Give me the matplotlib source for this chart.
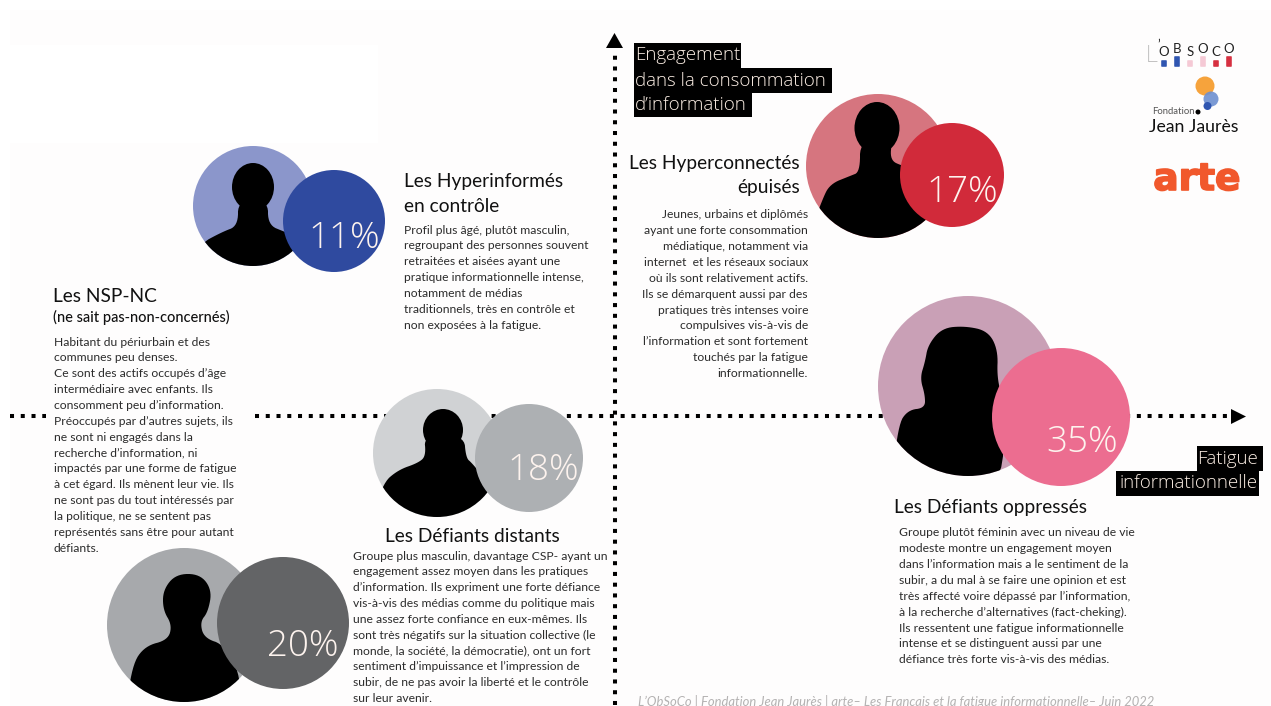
#Typology of French readers: share of each group on engagement / fatigue axes
from matplotlib import pyplot as plt
from matplotlib.patches import Circle, Polygon, Rectangle, Ellipse, FancyBboxPatch
from matplotlib import patheffects

plt.rcParams['font.family'] = ['Lato', 'DejaVu Sans']

#Share of each group
shares = ['11%', '17%', '35%', '18%', '20%']

#Texts of the groups
hyperinformes_title = ['Les Hyperinformés', 'en contrôle']
hyperinformes_text = ['Profil plus âgé, plutôt masculin,', 'regroupant des personnes souvent',
                      'retraitées et aisées ayant une', 'pratique informationnelle intense,',
                      'notamment de médias', 'traditionnels, très en contrôle et',
                      'non exposées à la fatigue.']
hyperconnectes_title = ['Les Hyperconnectés', 'épuisés']
hyperconnectes_text = ['Jeunes, urbains et diplômés', 'ayant une forte consommation',
                       'médiatique, notamment via', 'internet  et les réseaux sociaux',
                       'où ils sont relativement actifs.', 'Ils se démarquent aussi par des',
                       'pratiques très intenses voire', 'compulsives vis-à-vis de',
                       'l’information et sont fortement', 'touchés par la fatigue',
                       'informationnelle.']
nsp_title = 'Les NSP-NC'
nsp_subtitle = '(ne sait pas-non-concernés)'
nsp_text = ['Habitant du périurbain et des', 'communes peu denses.',
            'Ce sont des actifs occupés d’âge', 'intermédiaire avec enfants. Ils',
            'consomment peu d’information.', 'Préoccupés par d’autres sujets, ils',
            'ne sont ni engagés dans la', 'recherche d’information, ni',
            'impactés par une forme de fatigue', 'à cet égard. Ils mènent leur vie. Ils',
            'ne sont pas du tout intéressés par', 'la politique, ne se sentent pas',
            'représentés sans être pour autant', 'défiants.']
distants_title = 'Les Défiants distants'
distants_text = ['Groupe plus masculin, davantage CSP- ayant un',
                 'engagement assez moyen dans les pratiques',
                 'd’information. Ils expriment une forte défiance',
                 'vis-à-vis des médias comme du politique mais',
                 'une assez forte confiance en eux-mêmes. Ils',
                 'sont très négatifs sur la situation collective (le',
                 'monde, la société, la démocratie), ont un fort',
                 'sentiment d’impuissance et l’impression de',
                 'subir, de ne pas avoir la liberté et le contrôle',
                 'sur leur avenir.']
oppresses_title = 'Les Défiants oppressés'
oppresses_text = ['Groupe plutôt féminin avec un niveau de vie',
                  'modeste montre un engagement moyen',
                  'dans l’information mais a le sentiment de la',
                  'subir, a du mal à se faire une opinion et est',
                  'très affecté voire dépassé par l’information,',
                  'à la recherche d’alternatives (fact-cheking).',
                  'Ils ressentent une fatigue informationnelle',
                  'intense et se distinguent aussi par une',
                  'défiance très forte vis-à-vis des médias.']
footer = 'L’ObSoCo | Fondation Jean Jaurès | arte– Les Français et la fatigue informationnelle– Juin 2022'

BODY = 8.75
TITLE = 13.8
TEXT_COLOR = '#2b2b2b'

fig = plt.figure(figsize=(12.71, 7.06), dpi=100, facecolor='white')
ax = fig.add_axes([0, 0, 1, 1])
ax.set_xlim(0, 1271)
ax.set_ylim(706, 0)
ax.axis('off')

#Page background, with the white patch at top left
ax.add_patch(Rectangle((10, 10), 1261, 696, fc='#fefdfd', ec='none', zorder=0))
ax.add_patch(Rectangle((10, 45), 368, 98, fc='white', ec='none', zorder=0))

#Dotted axes
dots = (0, (1, 1.67))
ax.plot([10, 46], [416, 416], color='black', lw=2.9, ls=dots, dash_capstyle='butt', zorder=1)
ax.plot([255, 1236], [416, 416], color='black', lw=2.9, ls=dots, dash_capstyle='butt', zorder=1)
ax.plot([614.5, 614.5], [705, 50], color='black', lw=2.9, ls=dots, dash_capstyle='butt', zorder=1)
ax.add_patch(Polygon([(1231, 409), (1246, 416.5), (1231, 424)], fc='black', ec='none', zorder=1))
ax.add_patch(Polygon([(606, 48), (614.5, 33), (623, 48)], fc='black', ec='none', zorder=1))


def smooth(points, rounds=3):
    #Corner cutting, so the silhouettes do not look like plain polygons
    for _ in range(rounds):
        new = []
        for i, (x0, y0) in enumerate(points):
            x1, y1 = points[(i + 1) % len(points)]
            new.append((0.75 * x0 + 0.25 * x1, 0.75 * y0 + 0.25 * y1))
            new.append((0.25 * x0 + 0.75 * x1, 0.25 * y0 + 0.75 * y1))
        points = new
    return points


def bust(big, small, big_color, small_color, outline, head=None, share='', share_xy=(0, 0)):
    #Large circle with the silhouette clipped in it, then the small circle with the share
    back = Circle(big[:2], big[2], fc=big_color, ec='none', zorder=2)
    ax.add_patch(back)
    body = Polygon(smooth(outline), fc='black', ec='none', zorder=3)
    ax.add_patch(body)
    body.set_clip_path(back)
    if head is not None:
        ax.add_patch(Ellipse(head[:2], head[2], head[3], fc='black', ec='none', zorder=3))
    ax.add_patch(Circle(small[:2], small[2], fc=small_color, ec='none', zorder=4))
    ax.text(share_xy[0], share_xy[1], share, color='#fdf3ee', fontsize=26.5, family='Open Sans',
            fontweight='light', ha='center', va='center', zorder=5)


#Hyperinformés
bust((253, 206, 60), (334, 221, 51), '#8b96cb', '#2f4a9f',
     [(238, 200), (268, 200), (268, 225), (285, 232), (305, 240), (330, 290), (180, 290), (198, 245),
      (222, 232), (238, 226)],
     head=(253, 187, 42, 48), share=shares[0], share_xy=(344, 238))
#Hyperconnectés
bust((878, 166, 72), (952, 175, 52), '#d6757f', '#d12a3a',
     [(860, 140), (892, 140), (890, 160), (902, 166), (930, 172), (965, 200), (965, 260), (800, 260),
      (822, 200), (830, 184), (850, 176), (860, 172)],
     head=(877, 128, 45, 52), share=shares[1], share_xy=(962, 193))
#Défiants oppressés
bust((968, 386, 90), (1061, 417, 69), '#c9a0b6', '#ec6d90',
     [(928, 345), (942, 328), (965, 326), (988, 331), (998, 350), (997, 378), (1003, 400), (1003, 500),
      (890, 500), (898, 425), (908, 410), (925, 408), (925, 395), (920, 378), (925, 362)],
     share=shares[2], share_xy=(1082, 442))
#Défiants distants
bust((437, 453, 64), (529, 458, 54), '#d0d2d4', '#adb0b3',
     [(424, 435), (464, 435), (466, 458), (472, 463), (490, 485), (510, 540), (365, 540), (382, 484),
      (398, 470), (418, 463), (426, 456)],
     head=(443, 430, 40, 42), share=shares[3], share_xy=(543, 471))
#NSP
bust((184, 625, 77), (283, 623, 66), '#a7a9ac', '#636466',
     [(163, 590), (176, 574), (200, 574), (212, 590), (208, 612), (200, 622), (204, 638), (225, 645),
      (243, 682), (232, 720), (125, 720), (132, 665), (145, 646), (168, 640), (172, 625), (163, 610)],
     share=shares[4], share_xy=(303, 646))


def block(x, y, lines, step=15.85, ha='left', size=BODY, color=TEXT_COLOR, **kw):
    for i, line in enumerate(lines):
        ax.text(x, y + i * step, line, ha=ha, va='center', fontsize=size, color=color, zorder=6, **kw)


#Group texts
block(404, 181, hyperinformes_title, step=25, size=TITLE, color='#111111')
block(404, 230, hyperinformes_text)
block(800, 163, hyperconnectes_title, step=25, ha='right', size=TITLE, color='#111111')
block(808, 215, hyperconnectes_text, ha='right')
block(53, 297, [nsp_title], size=TITLE, color='#111111')
block(53, 317, [nsp_subtitle], size=10.55, color='#111111', fontweight='medium')
block(54, 342, nsp_text)
block(472, 537, [distants_title], ha='center', size=TITLE, color='#111111')
block(353, 556, distants_text)
block(894, 508, [oppresses_title], size=TITLE, color='#111111')
block(899, 533, oppresses_text)

#Axis captions, one black box per line
boxes_y = [(634, 43, 107, 25, 'Engagement'), (634, 68, 198, 25, 'dans la consommation'),
           (634, 93, 118, 24, 'd’information')]
for bx, by, bw, bh, label in boxes_y:
    ax.add_patch(Rectangle((bx, by), bw, bh, fc='black', ec='none', zorder=6))
    ax.text(bx + 1, by + bh / 2, label, color='#fbeee4', fontsize=13.5, family='Open Sans',
            fontweight='light', ha='left', va='center', zorder=7)
boxes_x = [(1197, 446, 66, 25, 'Fatigue'), (1116, 471, 143, 25, 'informationnelle')]
for bx, by, bw, bh, label in boxes_x:
    ax.add_patch(Rectangle((bx, by), bw, bh, fc='black', ec='none', zorder=6))
    ax.text(1258, by + bh / 2, label, color='#fbeee4', fontsize=13.5, family='Open Sans',
            fontweight='light', ha='right', va='center', zorder=7)

#Footer
ax.text(638, 701, footer, color='#b4b2b2', fontsize=9.4, style='italic', ha='left', va='center', zorder=6)

#Logos
logo_letters = ['O', 'B', 'S', 'O', 'C', 'O']
logo_colors = ['#2f55b0', '#2f55b0', '#f5c9d5', '#f5c9d5', '#d63040', '#d63040']
ax.text(1145, 55, 'L', fontsize=17, color='#222222', fontweight='light', ha='left', va='center', zorder=6)
ax.text(1157.5, 44, '’', fontsize=9, color='#222222', ha='left', va='center', zorder=6)
for i, (letter, c) in enumerate(zip(logo_letters, logo_colors)):
    lx = 1164 + i * 13
    ax.text(lx, 52 if i % 2 == 0 else 49, letter, fontsize=9.5, color='#222222', ha='center', va='center', zorder=6)
    pill_h = 5 if i % 2 == 0 else 9
    ax.add_patch(FancyBboxPatch((lx - 2, 66 - pill_h), 4, pill_h, boxstyle='round,pad=0.8', fc=c, ec='none', zorder=6))

ax.add_patch(Circle((1205, 86), 9.5, fc='#f6a33c', ec='none', zorder=6))
ax.add_patch(Circle((1211, 99), 7.5, fc='#6d8fd0', ec='none', alpha=0.9, zorder=7))
ax.add_patch(Circle((1207.5, 106), 4, fc='#2f55b0', ec='none', zorder=8))
ax.add_patch(Circle((1198, 112), 2.5, fc='black', ec='none', zorder=8))
ax.text(1152, 112, 'Fondation', fontsize=6.8, color='#555555', ha='left', va='center', zorder=6)
ax.text(1149, 127, 'Jean Jaurès', fontsize=12.7, color='#111111', ha='left', va='center', zorder=6)
arte = ax.text(1197, 190, 'arte', fontsize=27, color='#f1582c', fontweight='bold', family='DejaVu Sans',
               ha='center', va='baseline', zorder=6)
arte.set_path_effects([patheffects.withStroke(linewidth=1.2, foreground='#f1582c')])

fig.savefig('out.png', dpi=100)
